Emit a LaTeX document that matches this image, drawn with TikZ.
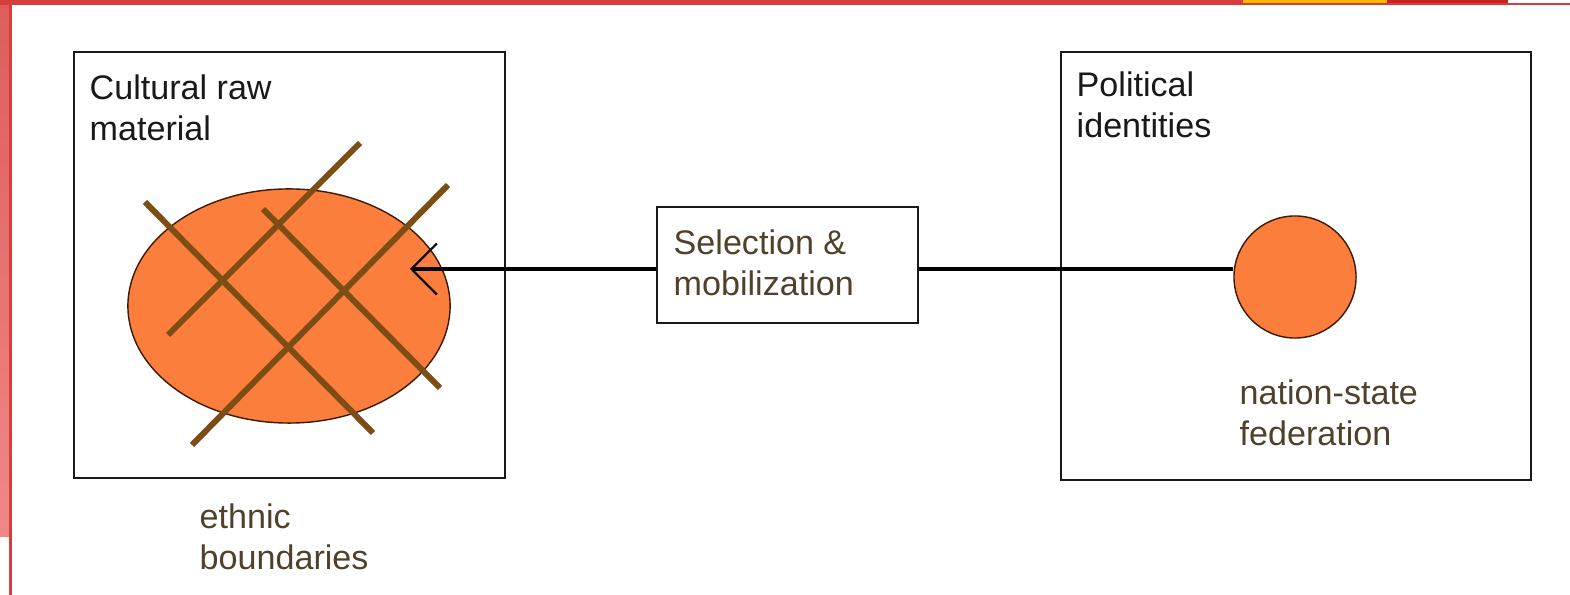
\documentclass[tikz,border=0pt]{standalone}
\usepackage{fontspec}
\setmainfont{Liberation Sans}
\usetikzlibrary{shapes.geometric,arrows.meta}

\definecolor{framered}{RGB}{214,62,62}
\definecolor{framedark}{RGB}{198,36,36}
\definecolor{frameyellow}{RGB}{255,184,0}
\definecolor{stripetop}{RGB}{222,92,92}
\definecolor{stripebot}{RGB}{240,136,136}
\definecolor{blob}{RGB}{252,126,60}
\definecolor{blobedge}{RGB}{60,26,6}
\definecolor{grid}{RGB}{124,78,22}
\definecolor{labelbrown}{RGB}{80,66,42}

\tikzset{
  panel/.style={draw=black!90, line width=0.7pt, rectangle, inner sep=0pt},
  stage/.style={draw=black!90, line width=0.6pt, rectangle, inner sep=0pt,
                minimum width=2.61cm, minimum height=1.16cm},
  txt/.style={anchor=north west, inner sep=0pt, align=left,
              font=\fontsize{9.7pt}{11.66pt}\selectfont},
  title/.style={txt, text=black!90},
  note/.style={txt, text=labelbrown},
  link/.style={line width=0.9pt, black},
  fence/.style={line width=1.7pt, grid},
}

\begin{document}
\begin{tikzpicture}[x=0.01cm, y=-0.01cm]
\useasboundingbox (0,0) rectangle (1570,595);
\fill[white] (0,0) rectangle (1570,595);

% slide frame: top band and left stripe
\shade[top color=stripetop, bottom color=stripebot] (0,0) rectangle (9,537);
\fill[framered] (9,0) rectangle (12,595);
\fill[framered] (0,0) rectangle (1570,5);
\fill[frameyellow] (1243,0) rectangle (1387,3);
\fill[framedark] (1387,0) rectangle (1508,3);
\fill[white] (1508,0) rectangle (1570,3);

% two panels
\node[panel, minimum width=4.31cm, minimum height=4.26cm] (raw) at (289.5,265) {};
\node[panel, minimum width=4.70cm, minimum height=4.28cm] (pol) at (1296,266) {};

\node[title] (rawtitle) at (89,74) {Cultural raw\\material};
\node[title] (poltitle) at (1076,71) {Political\\identities};

% cultural material crossed by boundaries
\node[ellipse, draw=blobedge, line width=0.4pt, fill=blob, inner sep=0pt,
      minimum width=3.22cm, minimum height=2.34cm] (blob) at (289,306) {};
\draw[fence] (145,202) -- (373,433);
\draw[fence] (263,209) -- (440,388);
\draw[fence] (168,335) -- (360,143);
\draw[fence] (192,445) -- (448,185);

\node[note] (ethnic) at (199,503) {ethnic\\boundaries};

% political unit
\node[circle, draw=blobedge, line width=0.4pt, fill=blob, inner sep=0pt,
      minimum size=1.22cm] (unit) at (1295,277) {};
\node[note] (nation) at (1239,379) {nation-state\\federation};

% middle stage
\node[stage] (sel) at (787.5,265) {};
\node[note] (seltext) at (673,229) {Selection \&\\mobilization};

\coordinate (tip) at (410,269);
\draw[link, -{Straight Barb[length=7.2pt, width=14.5pt, line width=0.6pt]}]
  (sel.west |- tip) -- (tip);
\draw[link] (sel.east |- tip) -- (unit.west |- tip);
\end{tikzpicture}
\end{document}
